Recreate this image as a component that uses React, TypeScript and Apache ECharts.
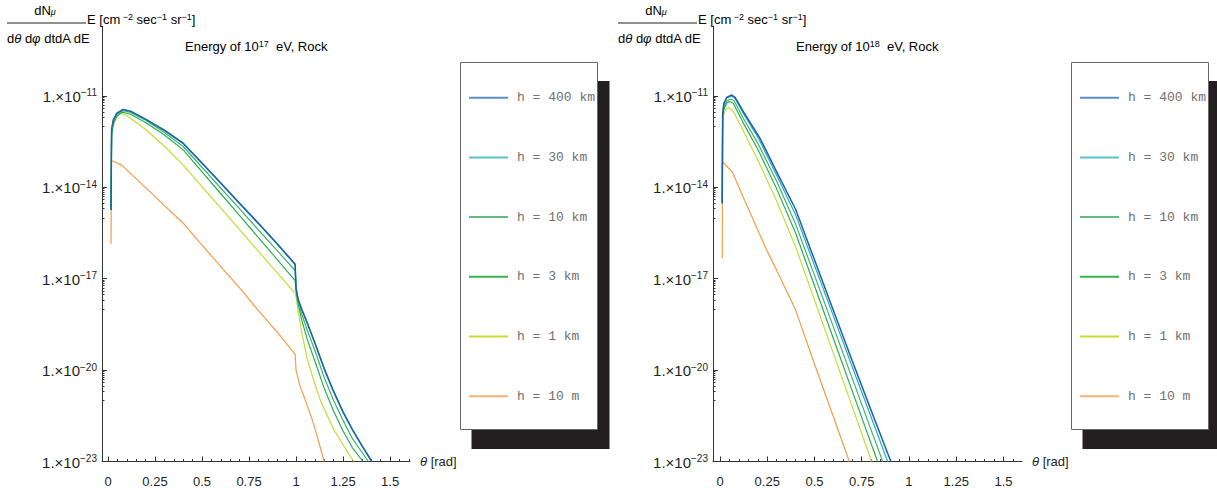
import React, { useEffect, useRef } from 'react';
import * as echarts from 'echarts';

// ---- categories / labels ----
const HEIGHTS = ['h = 400 km', 'h = 30 km', 'h = 10 km', 'h = 3 km', 'h = 1 km', 'h = 10 m'];
const LINE_COLORS = ['#1c62a6', '#28aac4', '#43b06e', '#25b04c', '#c6da38', '#f79b45'];
const LEGEND_COLORS = ['#5b8ec9', '#58c1c9', '#66ba80', '#35b352', '#c9dc2e', '#f9b271'];
const X_LABELS = [0, 0.25, 0.5, 0.75, 1, 1.25, 1.5];
const X_MINOR = [0.05, 0.1, 0.15, 0.2, 0.3, 0.35, 0.4, 0.45, 0.55, 0.6, 0.65, 0.7, 0.8, 0.85, 0.9, 0.95,
  1.05, 1.1, 1.15, 1.2, 1.3, 1.35, 1.4, 1.45, 1.55, 1.6];
const Y_LABEL_EXP = [-23, -20, -17, -14, -11];

// ---- series values: [theta (rad), log10 of flux] ----
// Energy 1e17 eV
const e17_h400 = [[0.016, -14.74], [0.019, -12.1], [0.028, -11.79], [0.046, -11.57], [0.08, -11.44], [0.12, -11.5], [0.2, -11.76], [0.3, -12.12], [0.4, -12.55], [0.5, -13.2], [0.6, -13.86], [0.7, -14.52], [0.8, -15.18], [0.9, -15.85], [0.995, -16.52], [1.0, -17.3], [1.01, -17.65], [1.03, -18.0], [1.06, -18.45], [1.1, -19.1], [1.15, -19.95], [1.2, -20.7], [1.25, -21.37], [1.3, -21.95], [1.35, -22.47], [1.403, -23.0]];
const e17_h30 = [[0.016, -14.74], [0.019, -12.12], [0.028, -11.8], [0.046, -11.58], [0.08, -11.45], [0.12, -11.51], [0.2, -11.77], [0.3, -12.14], [0.4, -12.57], [0.5, -13.22], [0.6, -13.88], [0.7, -14.54], [0.8, -15.2], [0.9, -15.87], [0.995, -16.54], [1.0, -17.31], [1.01, -17.66], [1.03, -18.01], [1.06, -18.47], [1.1, -19.12], [1.15, -19.97], [1.2, -20.72], [1.25, -21.39], [1.3, -21.97], [1.35, -22.49], [1.402, -23.0]];
const e17_h10 = [[0.016, -14.74], [0.019, -12.2], [0.028, -11.85], [0.046, -11.62], [0.08, -11.48], [0.12, -11.54], [0.2, -11.8], [0.3, -12.2], [0.4, -12.66], [0.5, -13.34], [0.6, -14.03], [0.7, -14.71], [0.8, -15.4], [0.9, -16.08], [0.995, -16.73], [1.0, -17.35], [1.01, -17.7], [1.03, -18.15], [1.06, -18.7], [1.1, -19.35], [1.15, -20.25], [1.2, -21.0], [1.25, -21.65], [1.3, -22.25], [1.385, -23.0]];
const e17_h3 = [[0.016, -14.74], [0.019, -12.3], [0.028, -11.9], [0.046, -11.67], [0.075, -11.53], [0.12, -11.6], [0.2, -11.87], [0.3, -12.28], [0.4, -12.77], [0.5, -13.49], [0.6, -14.21], [0.7, -14.93], [0.8, -15.65], [0.9, -16.37], [0.995, -17.06], [1.0, -17.4], [1.01, -17.8], [1.03, -18.35], [1.06, -19.0], [1.1, -19.7], [1.15, -20.6], [1.2, -21.35], [1.25, -22.0], [1.3, -22.55], [1.356, -23.0]];
const e17_h1 = [[0.016, -14.74], [0.019, -12.4], [0.028, -12.0], [0.045, -11.7], [0.065, -11.57], [0.1, -11.64], [0.2, -12.1], [0.3, -12.65], [0.4, -13.27], [0.5, -13.98], [0.6, -14.68], [0.7, -15.39], [0.8, -16.1], [0.9, -16.81], [0.995, -17.48], [1.0, -17.6], [1.01, -18.0], [1.03, -18.75], [1.06, -19.65], [1.1, -20.45], [1.13, -21.0], [1.2, -21.95], [1.25, -22.45], [1.307, -23.0]];
const e17_h10m = [[0.016, -15.86], [0.018, -13.12], [0.073, -13.27], [0.2, -14.01], [0.3, -14.6], [0.4, -15.18], [0.5, -15.9], [0.6, -16.6], [0.7, -17.3], [0.8, -18.05], [0.9, -18.75], [0.995, -19.48], [1.0, -20.0], [1.02, -20.5], [1.05, -21.0], [1.09, -21.7], [1.12, -22.35], [1.15, -23.0]];

// Energy 1e18 eV
const e18_h400 = [[0.012, -14.52], [0.014, -11.6], [0.02, -11.25], [0.035, -11.05], [0.062, -10.97], [0.08, -11.05], [0.123, -11.51], [0.212, -12.39], [0.3, -13.49], [0.4, -14.72], [0.5, -16.38], [0.6, -18.04], [0.7, -19.7], [0.8, -21.33], [0.904, -23.0]];
const e18_h30 = [[0.012, -14.52], [0.014, -11.62], [0.02, -11.28], [0.035, -11.07], [0.06, -10.99], [0.08, -11.08], [0.12, -11.53], [0.2, -12.35], [0.3, -13.6], [0.4, -14.9], [0.5, -16.56], [0.6, -18.22], [0.7, -19.9], [0.8, -21.55], [0.887, -23.0]];
const e18_h10 = [[0.012, -14.52], [0.014, -11.7], [0.02, -11.38], [0.035, -11.17], [0.055, -11.1], [0.075, -11.16], [0.12, -11.7], [0.2, -12.55], [0.3, -13.8], [0.4, -15.2], [0.5, -16.89], [0.6, -18.58], [0.7, -20.27], [0.8, -21.97], [0.861, -23.0]];
const e18_h3 = [[0.012, -14.52], [0.014, -11.75], [0.02, -11.45], [0.035, -11.24], [0.05, -11.18], [0.07, -11.24], [0.12, -11.85], [0.2, -12.75], [0.3, -14.05], [0.4, -15.5], [0.5, -17.23], [0.6, -18.96], [0.7, -20.69], [0.8, -22.42], [0.834, -23.0]];
const e18_h1 = [[0.012, -14.52], [0.014, -11.9], [0.02, -11.6], [0.03, -11.45], [0.045, -11.38], [0.07, -11.5], [0.12, -12.1], [0.2, -13.1], [0.3, -14.45], [0.4, -15.95], [0.5, -17.7], [0.6, -19.45], [0.7, -21.2], [0.802, -23.0]];
const e18_h10m = [[0.012, -16.33], [0.013, -13.16], [0.065, -13.5], [0.15, -14.7], [0.247, -16.06], [0.312, -16.88], [0.4, -18.03], [0.5, -19.8], [0.6, -21.53], [0.684, -23.0]];

const PANELS = [
  { energyExp: '17', series: [e17_h400, e17_h30, e17_h10, e17_h3, e17_h1, e17_h10m] },
  { energyExp: '18', series: [e18_h400, e18_h30, e18_h10, e18_h3, e18_h1, e18_h10m] },
];

const FONT = "'Liberation Sans', Arial, Helvetica, sans-serif";
const INK = '#231f20';

const SUP_RICH = {
  n: { fontFamily: FONT, fontSize: 13, lineHeight: 14, verticalAlign: 'bottom', color: INK },
  i: { fontFamily: FONT, fontSize: 13, lineHeight: 14, verticalAlign: 'bottom', fontStyle: 'italic', color: INK },
  s: { fontFamily: FONT, fontSize: 9, lineHeight: 9, verticalAlign: 'top', padding: [0, 0, 7, 0], color: INK },
};

export default function App() {
  const ref = useRef<HTMLDivElement>(null);
  useEffect(() => {
    if (!ref.current) return;
    const chart = echarts.init(ref.current, undefined, { renderer: 'svg' });

    const yMinor: number[] = [];
    Y_LABEL_EXP.forEach((e) => {
      if (e - 1 < -23) return;
      for (let m = 1; m <= 9; m++) yMinor.push(e - 1 + Math.log10(m));
    });

    const grids = [
      { left: 102, top: 26.5, width: 308, height: 435 },
      { left: 713, top: 26.5, width: 309, height: 435 },
    ];
    const xRanges = [[-0.032, 1.606], [-0.037, 1.598]];

    const xAxis: any[] = [];
    const yAxis: any[] = [];
    grids.forEach((_, p) => {
      xAxis.push({
        gridIndex: p, type: 'value', position: 'bottom', min: xRanges[p][0], max: xRanges[p][1],
        axisLine: { show: true, onZero: false, lineStyle: { color: '#333', width: 1 } },
        axisTick: { show: true, inside: true, length: 5, customValues: X_LABELS, lineStyle: { color: '#333' } },
        axisLabel: { customValues: X_LABELS, margin: 13, fontFamily: FONT, fontSize: 13, color: INK,
          formatter: (v: number) => String(v) },
        splitLine: { show: false },
        name: '{i|θ} [rad]', nameLocation: 'end', nameGap: 10,
        nameTextStyle: { fontFamily: FONT, fontSize: 13, color: INK,
          rich: { i: { fontFamily: FONT, fontSize: 13, fontStyle: 'italic', color: INK } } },
      });
      xAxis.push({
        gridIndex: p, type: 'value', position: 'bottom', offset: 0, min: xRanges[p][0], max: xRanges[p][1],
        axisLine: { show: false, onZero: false },
        axisTick: { show: true, inside: true, length: 2.5, customValues: X_MINOR, lineStyle: { color: '#333' } },
        axisLabel: { show: false }, splitLine: { show: false },
      });
      yAxis.push({
        gridIndex: p, type: 'value', position: 'left', min: -23, max: -8.72,
        axisLine: { show: true, onZero: false, lineStyle: { color: '#333', width: 1 } },
        axisTick: { show: true, inside: true, length: 5, customValues: Y_LABEL_EXP, lineStyle: { color: '#333' } },
        axisLabel: {
          customValues: Y_LABEL_EXP, margin: 5,
          formatter: (v: number) => `{b|1.×10}{s|${v < 0 ? '−' : ''}${Math.abs(Math.round(v))}}`,
          rich: {
            b: { fontFamily: FONT, fontSize: 15, lineHeight: 16, verticalAlign: 'bottom', color: INK },
            s: { fontFamily: FONT, fontSize: 10, lineHeight: 10, verticalAlign: 'top', padding: [0, 0, 8, 0], color: INK },
          },
        },
        splitLine: { show: false },
      });
      yAxis.push({
        gridIndex: p, type: 'value', position: 'left', offset: 0, min: -23, max: -8.72,
        axisLine: { show: false, onZero: false },
        axisTick: { show: true, inside: true, length: 2.5, customValues: yMinor, lineStyle: { color: '#333' } },
        axisLabel: { show: false }, splitLine: { show: false },
      });
    });

    const series: any[] = [];
    PANELS.forEach((panel, p) => {
      for (let i = panel.series.length - 1; i >= 0; i--) {
        series.push({
          type: 'line', name: HEIGHTS[i], xAxisIndex: p * 2, yAxisIndex: p * 2,
          data: panel.series[i], showSymbol: false, symbol: 'none',
          lineStyle: { color: LINE_COLORS[i], width: i === 0 ? 1.5 : 1.2 },
          itemStyle: { color: LINE_COLORS[i] },
        });
      }
    });

    const legends: any[] = [];
    const graphic: any[] = [];
    const DX = [0, 611];
    PANELS.forEach((panel, p) => {
      const dx = DX[p];
      legends.push({
        left: 469 + dx, top: 89.7, orient: 'vertical', itemWidth: 39, itemHeight: 2, itemGap: 43.7,
        icon: 'rect', padding: 0, selectedMode: false,
        textStyle: { fontFamily: "'Liberation Mono', 'DejaVu Sans Mono', monospace", fontSize: 13, color: '#707070', lineHeight: 16, padding: [0, 0, 0, 4] },
        data: HEIGHTS.map((n, i) => ({ name: n, itemStyle: { color: LEGEND_COLORS[i] } })),
      });
      graphic.push(
        { type: 'rect', z: 1, shape: { x: 471.5 + dx, y: 81, width: 138, height: 368 }, style: { fill: INK } },
        { type: 'rect', z: 2, shape: { x: 460.5 + dx, y: 62.5, width: 137, height: 367 }, style: { fill: '#fff', stroke: '#666', lineWidth: 1 } },
        { type: 'text', z: 3, x: 45 + dx, y: 10, style: {
          text: '{a|dN}{u|μ}', align: 'center', verticalAlign: 'middle',
          rich: {
            a: { fontFamily: FONT, fontSize: 13, lineHeight: 13, verticalAlign: 'top', color: INK },
            u: { fontFamily: FONT, fontSize: 9, lineHeight: 9, verticalAlign: 'bottom', fontStyle: 'italic', padding: [6, 0, 0, 0], color: INK },
          } } },
        { type: 'line', z: 3, shape: { x1: 7 + dx, y1: 23, x2: 86 + dx, y2: 23 }, style: { stroke: INK, lineWidth: 1 } },
        { type: 'text', z: 3, x: 7 + dx, y: 38, style: {
          text: '{n|d}{i|θ}{n| d}{i|φ}{n| dtdA dE}', align: 'left', verticalAlign: 'middle', rich: SUP_RICH } },
        { type: 'text', z: 3, x: 87 + dx, y: 19, style: {
          text: '{n|E [cm}{s| −2}{n| sec}{s|−1}{n| sr}{s|−1}{n|]}', align: 'left', verticalAlign: 'middle', rich: SUP_RICH } },
        { type: 'text', z: 3, x: 185 + dx, y: 46, style: {
          text: `{n|Energy of 10}{s|${panel.energyExp}}{n|  eV, Rock}`, align: 'left', verticalAlign: 'middle', rich: SUP_RICH } },
      );
    });

    chart.setOption({
      animation: false,
      backgroundColor: '#fff',
      grid: grids,
      xAxis, yAxis, series,
      legend: legends,
      graphic,
    });
    return () => chart.dispose();
  }, []);
  return <div ref={ref} style={{ position: 'absolute', left: 0, top: 0, width: 1217, height: 495 }} />;
}
